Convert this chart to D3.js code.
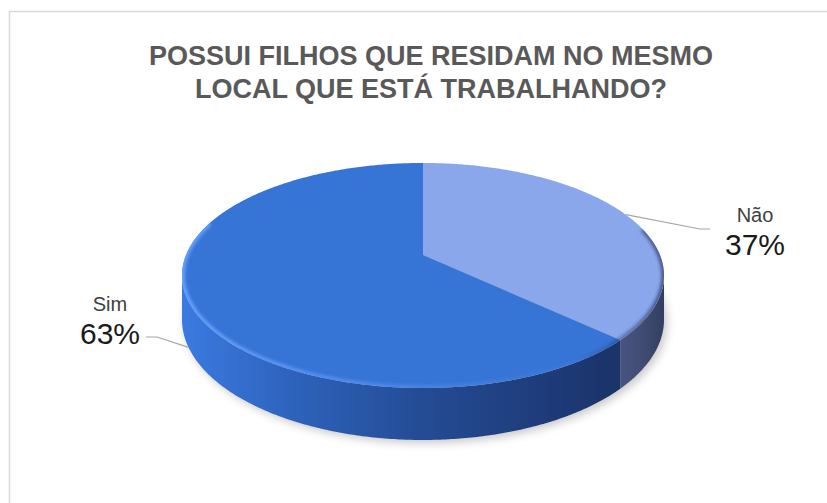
<!DOCTYPE html>
<html>
<head>
<meta charset="utf-8">
<script src="https://cdn.jsdelivr.net/npm/d3@7"></script>
<style>
  html, body { margin: 0; padding: 0; background: #ffffff; }
  svg { display: block; }
</style>
</head>
<body>
<svg id="chart" width="827" height="503"></svg>
<script>
// Survey answers: share of respondents with children living where they work
const categories = ["Não", "Sim"];
const values = [37, 63];
const percentLabels = ["37%", "63%"];
const titleLines = ["POSSUI FILHOS QUE RESIDAM NO MESMO", "LOCAL QUE ESTÁ TRABALHANDO?"];

const topColors = ["#8aa7ec", "#3674d6"];

const W = 827, H = 503;
const svg = d3.select("#chart");
const defs = svg.append("defs");

// Outer chart frame
svg.append("rect")
  .attr("x", 9.5).attr("y", 11.5)
  .attr("width", W + 20).attr("height", H + 20)
  .attr("fill", "#ffffff")
  .attr("stroke", "#d9d9d9").attr("stroke-width", 1.5);

// Title
svg.append("g").selectAll("text")
  .data(titleLines)
  .join("text")
  .attr("x", 431)
  .attr("y", (d, i) => 65 + i * 33)
  .attr("text-anchor", "middle")
  .attr("font-family", "'Liberation Sans', Arial, sans-serif")
  .attr("font-weight", "bold")
  .attr("font-size", 27)
  .attr("fill", "#595959")
  .text(d => d);

// 3D pie projection: angle measured clockwise from 12 o'clock,
// depth 0 = top face, depth 1 = bottom rim. Mild perspective (p).
const geo = { cx: 423, cy: 255, A: 237, B: 108.8, depth: 42.5, p: 0.182 };
function proj(phi, d) {
  const u = Math.sin(phi), v = -Math.cos(phi);
  const w = 1 - geo.p * v;
  return [geo.cx + geo.A * u / w, geo.cy + (geo.B * v + geo.depth * d) / w];
}
function arcPts(a0, a1, d) {
  const n = Math.max(2, Math.ceil(Math.abs(a1 - a0) / 0.01));
  return d3.range(n + 1).map(i => proj(a0 + (a1 - a0) * i / n, d));
}
const line = d3.line();

const pie = d3.pie().sort(null).value(d => d)(values);

// Visible front arc of the rim (between the silhouette tangents)
const visLo = Math.acos(-geo.p), visHi = 2 * Math.PI - visLo;

// Gradients for the rim
const gSim = defs.append("linearGradient").attr("id", "sideSim")
  .attr("gradientUnits", "userSpaceOnUse")
  .attr("x1", 183).attr("y1", 0).attr("x2", 613).attr("y2", 0);
[[0, "#3b7ae0"], [0.25, "#2e63bd"], [0.55, "#244c95"], [0.85, "#1e3b79"], [1, "#1b3469"]]
  .forEach(([o, c]) => gSim.append("stop").attr("offset", o).attr("stop-color", c));
const gNao = defs.append("linearGradient").attr("id", "sideNao")
  .attr("gradientUnits", "userSpaceOnUse")
  .attr("x1", 613).attr("y1", 0).attr("x2", 665).attr("y2", 0);
[[0, "#4a5785"], [0.6, "#3f4b72"], [1, "#333d5e"]]
  .forEach(([o, c]) => gNao.append("stop").attr("offset", o).attr("stop-color", c));
const sideFills = ["url(#sideNao)", "url(#sideSim)"];

// Soft drop shadow under the pie
defs.append("filter").attr("id", "shadowBlur")
  .attr("x", "-20%").attr("y", "-20%").attr("width", "140%").attr("height", "140%")
  .append("feGaussianBlur").attr("stdDeviation", 5);
svg.append("path")
  .attr("d", line(arcPts(0, 2 * Math.PI, 1).map(([x, y]) => [x + 3, y + 3])) + "Z")
  .attr("fill", "#000000").attr("opacity", 0.22)
  .attr("filter", "url(#shadowBlur)");

const pieG = svg.append("g");

// Rim (side walls)
pie.forEach((s, i) => {
  const a0 = Math.max(s.startAngle, visLo), a1 = Math.min(s.endAngle, visHi);
  if (a1 <= a0) return;
  const pts = arcPts(a0, a1, 0).concat(arcPts(a1, a0, 1));
  pieG.append("path").attr("d", line(pts) + "Z").attr("fill", sideFills[i]);
});

// Top faces
const apex = proj(0, 0).map((v, k) => k === 0 ? geo.cx : geo.cy);
pie.forEach((s, i) => {
  const pts = [apex].concat(arcPts(s.startAngle, s.endAngle, 0));
  pieG.append("path").attr("d", line(pts) + "Z").attr("fill", topColors[i]);
});

// Bevel: light rim along the front edge of the top face, darker at the right
defs.append("clipPath").attr("id", "topClip")
  .append("path").attr("d", line(arcPts(0, 2 * Math.PI, 0)) + "Z");
defs.append("filter").attr("id", "bevelBlur")
  .append("feGaussianBlur").attr("stdDeviation", 1.6);
const gBevel = defs.append("linearGradient").attr("id", "bevelGrad")
  .attr("gradientUnits", "userSpaceOnUse")
  .attr("x1", 183).attr("y1", 0).attr("x2", 665).attr("y2", 0);
[[0, "#6aa5ff", 0.9], [0.45, "#5a95f0", 0.55], [0.8, "#4a80e0", 0.2], [0.9, "#1e2a50", 0.35], [1, "#1e2a50", 0.6]]
  .forEach(([o, c, op]) => gBevel.append("stop").attr("offset", o)
    .attr("stop-color", c).attr("stop-opacity", op));
pieG.append("path")
  .attr("d", line(arcPts(Math.PI * 0.42, Math.PI * 1.6, 0)))
  .attr("fill", "none")
  .attr("stroke", "url(#bevelGrad)")
  .attr("stroke-width", 6)
  .attr("clip-path", "url(#topClip)")
  .attr("filter", "url(#bevelBlur)");

// Leader lines and data labels
const labelLayout = [
  { elbow: [700, 229], end: [710, 229], x: 755, yName: 222, yPct: 255 },
  { elbow: [157, 337], end: [146, 337], x: 110, yName: 311, yPct: 344 }
];
pie.forEach((s, i) => {
  const mid = (s.startAngle + s.endAngle) / 2;
  const onFront = -Math.cos(mid) > 0;
  const anchor = proj(mid, onFront ? 1 : 0);
  const L = labelLayout[i];
  svg.append("path")
    .attr("d", line([anchor, L.elbow, L.end]))
    .attr("fill", "none").attr("stroke", "#a6a6a6").attr("stroke-width", 1.2);
  svg.append("text")
    .attr("x", L.x).attr("y", L.yName)
    .attr("text-anchor", "middle")
    .attr("font-family", "'Liberation Sans', Arial, sans-serif")
    .attr("font-size", 20).attr("fill", "#404040")
    .text(categories[i]);
  svg.append("text")
    .attr("x", L.x).attr("y", L.yPct)
    .attr("text-anchor", "middle")
    .attr("font-family", "'Liberation Sans', Arial, sans-serif")
    .attr("font-size", 30).attr("fill", "#1a1a1a")
    .text(percentLabels[i]);
});
</script>
</body>
</html>
